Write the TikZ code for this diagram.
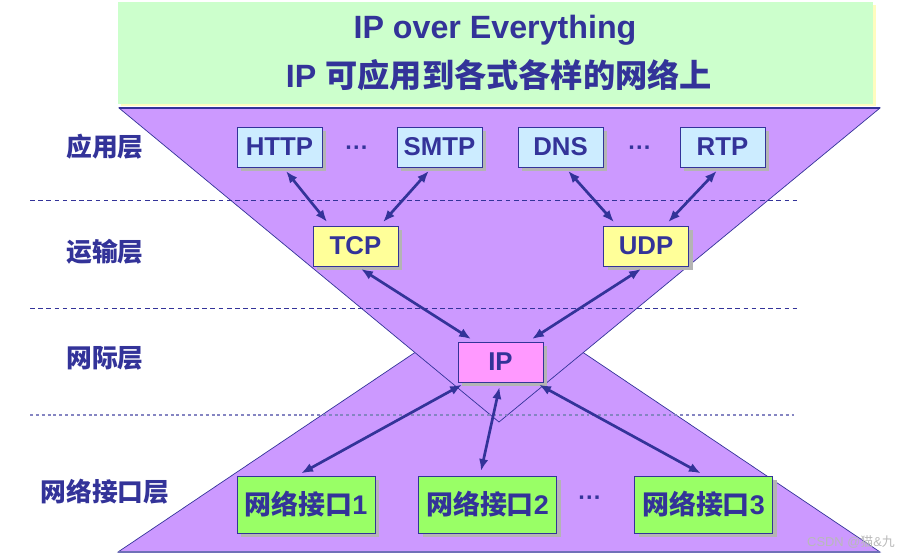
\documentclass[tikz,border=0pt]{standalone}
\usepackage{fontspec}
\setmainfont{Liberation Sans}
\newfontfamily\cjk{Noto Sans CJK SC}
\usetikzlibrary{arrows.meta,shadows}
\definecolor{ink}{HTML}{333399}
\definecolor{titlegreen}{HTML}{CCFFCC}
\definecolor{funnel}{HTML}{CC99FF}
\definecolor{appblue}{HTML}{CCECFF}
\definecolor{tpyellow}{HTML}{FFFF99}
\definecolor{ippink}{HTML}{FF99FF}
\definecolor{nicgreen}{HTML}{99FF66}
\definecolor{shade}{HTML}{B4B4B4}

\begin{document}
\begin{tikzpicture}[x=0.03cm, y=-0.03cm, every node/.style={font=\bfseries\fontsize{22}{26}\selectfont, text=ink}, >={Latex[length=3.6mm, width=2.8mm]},
	box/.style={draw=ink, line width=0.6pt, minimum width=2.55cm, minimum height=1.2cm, inner sep=0pt, drop shadow={shadow xshift=0.12cm, shadow yshift=-0.12cm, fill=shade, opacity=1}},
	nicbox/.style={box, fill=nicgreen, minimum width=4.14cm, minimum height=1.71cm, font=\bfseries\fontsize{23}{27}\selectfont},
	link/.style={<->, ink, line width=2.3pt, shorten <=4pt, shorten >=4pt}]
	\useasboundingbox (0,0) rectangle (908,558);
	% title banner
	\fill[yellow!25] (121,5) rectangle (876,106);
	\fill[titlegreen] (118,2) rectangle (873,104);
	\node[font=\bfseries\fontsize{27.5}{31}\selectfont] (title1) at (495,30) {IP over Everything};
	\node[font=\bfseries\fontsize{27.5}{31}\selectfont] (title2) at (499,75) {IP {\cjk 可应用到各式各样的网络上}};
	% hourglass
	\filldraw[fill=funnel, draw=ink, line width=0.6pt] (118,552) -- (499,296) -- (880,552) -- cycle;
	\filldraw[fill=funnel, draw=ink, line width=0.6pt] (119,108) -- (880,108) -- (499,422) -- cycle;
	\draw[ink, line width=1.2pt] (119,108) -- (880,108);
	\draw[ink!70, line width=1.2pt] (118,552) -- (880,552);
	% layer borders
	\foreach \y in {200,308} {\draw[ink, line width=0.7pt, dash pattern=on 4pt off 3pt] (30,\y) -- (797,\y);}
	\draw[ink!60, line width=0.9pt, dash pattern=on 2.5pt off 2.5pt] (30,415) -- (797,415);
	\foreach \n/\t/\y in {lapp/应用层/147, ltrans/运输层/252, lnet/网际层/358, llink/网络接口层/492} {\node (\n) at (105,\y) {\cjk \t};}
	% protocol boxes
	\foreach \n/\t/\x in {http/HTTP/279.5, smtp/SMTP/439.5, dns/DNS/560.5, rtp/RTP/722.5} {\node[box, fill=appblue] (\n) at (\x,147) {\t};}
	\node[box, fill=tpyellow] (tcp) at (355.5,246) {TCP};
	\node[box, fill=tpyellow] (udp) at (646,246) {UDP};
	\node[box, fill=ippink] (ip) at (500.5,362) {IP};
	\node[nicbox] (nic1) at (306,504.5) {{\cjk 网络接口}1};
	\node[nicbox] (nic2) at (487.5,504.5) {{\cjk 网络接口}2};
	\node[nicbox] (nic3) at (703.5,504.5) {{\cjk 网络接口}3};
	\node[font=\bfseries\fontsize{20}{24}\selectfont] (dotsA) at (357,151) {···};
	\node[font=\bfseries\fontsize{20}{24}\selectfont] (dotsB) at (640,151) {···};
	\node[font=\bfseries\fontsize{20}{24}\selectfont] (dotsC) at (590,501) {···};
	% links
	\foreach \a/\da/\b/\db in {http/3/tcp/-21.7, smtp/-6.4/tcp/20.8, dns/3.8/udp/-24.6, rtp/-2.1/udp/16.1, tcp/1.3/ip/-21.7, udp/-0.8/ip/23.4, ip/-29.3/nic1/-7.7, ip/0/nic2/-6.4, ip/29.3/nic3/1.3} {
		\draw[link] ([xshift=\da pt]\a.south) -- ([xshift=\db pt]\b.north);
	}
	\node[font=\fontsize{11}{13}\selectfont, text=gray!55] (mark) at (851,542) {CSDN @{\cjk 猫}\&{\cjk 九}};
\end{tikzpicture}
\end{document}
